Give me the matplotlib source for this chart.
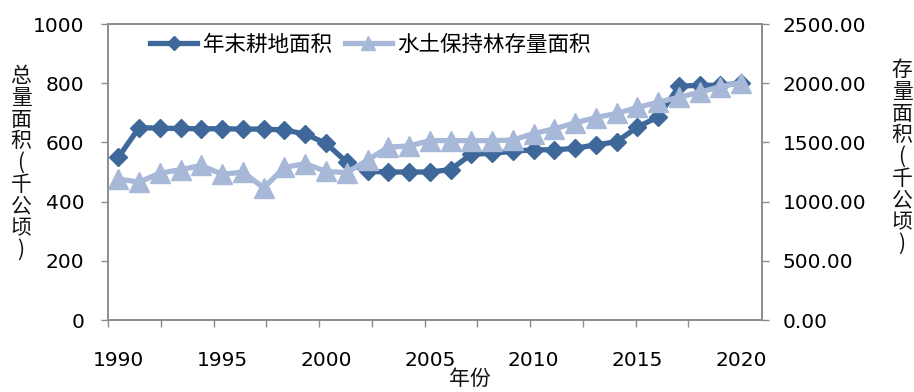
import matplotlib
matplotlib.use("Agg")
import matplotlib.pyplot as plt
import numpy as np

years = list(range(1990, 2021))

# 年末耕地面积 (千公顷), left axis
cropland = [550, 650, 648, 647, 646, 646, 645, 645, 642, 628,
            597, 533, 502, 500, 500, 500, 508, 560, 563, 570,
            575, 575, 580, 592, 602, 652, 686, 790, 793, 793, 800]

# 水土保持林存量面积 (千公顷), right axis
forest = [1190, 1165, 1240, 1270, 1305, 1230, 1250, 1115, 1290, 1320,
          1255, 1245, 1350, 1460, 1470, 1515, 1515, 1515, 1515, 1520,
          1575, 1615, 1665, 1710, 1745, 1795, 1840, 1880, 1925, 1970, 2005]

xtick_years = [1990, 1995, 2000, 2005, 2010, 2015, 2020]
left_ticks = [0, 200, 400, 600, 800, 1000]
right_ticks = [0, 500, 1000, 1500, 2000, 2500]

DARK = "#3d6899"
LIGHT = "#a8b8d8"
SPINE = "#8c8c8c"
NUM_FONT = "DejaVu Sans"
CJK_FONT = ["Noto Sans CJK SC", "DejaVu Sans"]

W, H = 914, 392
fig = plt.figure(figsize=(W / 100, H / 100), dpi=100)
ax = fig.add_axes([108 / W, 1 - 320 / H, (762 - 108) / W, (320 - 24) / H])
ax2 = ax.twinx()

l1, = ax.plot(years, cropland, color=DARK, linewidth=3.8, marker="D",
              markersize=9.5, markerfacecolor=DARK, markeredgecolor=DARK,
              label="年末耕地面积")
l2, = ax2.plot(years, forest, color=LIGHT, linewidth=3.8, marker="^",
               markersize=14, markerfacecolor=LIGHT, markeredgecolor=LIGHT,
               label="水土保持林存量面积")

ax.set_xlim(1989.5, 2021.0)
ax.set_ylim(0, 1000)
ax2.set_ylim(0, 2500)

# x axis: labels every 5 years, small tick marks along the axis line
ax.set_xticks(xtick_years)
ax.set_xticklabels([str(y) for y in xtick_years], fontsize=14.5, family=NUM_FONT)
ax.tick_params(axis="x", which="major", length=0, pad=22)
ax.set_xticks(np.linspace(1989.5, 2020.0, 13), minor=True)
ax.tick_params(axis="x", which="minor", length=5, width=1, color=SPINE, direction="out")

ax.set_yticks(left_ticks)
ax.set_yticklabels([str(v) for v in left_ticks], fontsize=14.5, family=NUM_FONT)
ax.tick_params(axis="y", length=5, width=1, color=SPINE, pad=12)

ax2.set_yticks(right_ticks)
ax2.set_yticklabels([f"{v:.2f}" for v in right_ticks], fontsize=14.5, family=NUM_FONT)
ax2.tick_params(axis="y", length=5, width=1, color=SPINE, pad=10)

for a in (ax, ax2):
    for s in a.spines.values():
        s.set_color(SPINE)
        s.set_linewidth(1.2)

# stacked axis titles, one character per line
left_title = ["总", "量", "面", "积", "(", "千", "公", "顷", ")"]
right_title = ["存", "量", "面", "积", "(", "千", "公", "顷", ")"]
fig.text(21 / W, 1 - 163 / H, "\n".join(left_title), family=CJK_FONT,
         fontsize=15, ha="center", va="center", multialignment="center",
         linespacing=0.98, color="#111111")
fig.text(902 / W, 1 - 157 / H, "\n".join(right_title), family=CJK_FONT,
         fontsize=15, ha="center", va="center", multialignment="center",
         linespacing=0.98, color="#111111")
fig.text(470 / W, 1 - 379 / H, "年份", family=CJK_FONT, fontsize=15,
         ha="center", va="center", color="#111111")

leg = ax2.legend([l1, l2], [l1.get_label(), l2.get_label()], ncol=2,
                 loc="center left", bbox_to_anchor=(150 / W, 1 - 45 / H),
                 bbox_transform=fig.transFigure, frameon=False,
                 prop={"family": CJK_FONT, "size": 15.5},
                 handlelength=2.2, handletextpad=0.25, columnspacing=0.6,
                 borderpad=0, borderaxespad=0, markerscale=0.75)

fig.savefig("out.png", dpi=100)
